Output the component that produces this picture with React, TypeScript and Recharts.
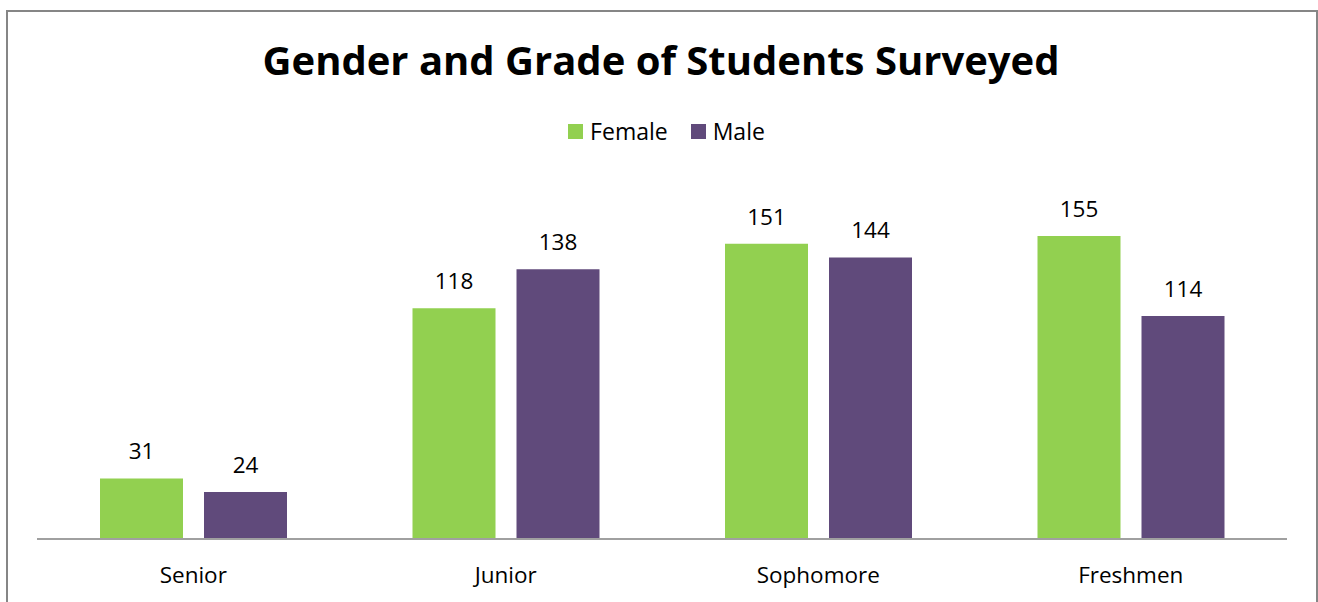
import React from 'react';
import { BarChart, Bar, XAxis, YAxis, LabelList, Legend } from 'recharts';

const grades = ['Senior', 'Junior', 'Sophomore', 'Freshmen'];
const female = [31, 118, 151, 155];
const male = [24, 138, 144, 114];
const title = 'Gender and Grade of Students Surveyed';

const data = grades.map((g, i) => ({ grade: g, Female: female[i], Male: male[i] }));

const FONT = '"Open Sans", sans-serif';

const LegendContent = (props: any) => {
  const payload = props.payload || [];
  return (
    <div style={{ display: 'flex', justifyContent: 'center', width: '100%', height: 15, paddingLeft: 15, boxSizing: 'border-box' }}>
      {payload.map((p: any, i: number) => (
        <div
          key={i}
          style={{
            display: 'flex',
            alignItems: 'center',
            marginLeft: i === 0 ? 0 : 23,
            fontFamily: FONT,
            fontSize: 23,
            lineHeight: '15px',
            height: 15,
            color: '#000',
          }}
        >
          <span style={{ display: 'inline-block', width: 15, height: 15, background: p.color, marginRight: 7 }} />
          <span>{p.value}</span>
        </div>
      ))}
    </div>
  );
};

export default function App() {
  return (
    <div style={{ position: 'absolute', left: 0, top: 0, width: 1318, height: 602, overflow: 'hidden', background: '#fff' }}>
      <div
        style={{
          position: 'absolute',
          left: 6,
          top: 10,
          width: 1312,
          height: 620,
          border: '2px solid #868686',
          boxSizing: 'border-box',
        }}
      />
      <svg style={{ position: 'absolute', left: 0, top: 0 }} width={1318} height={602}>
        <text x={661} y={75} textAnchor="middle" fontFamily={FONT} fontWeight={700} fontSize={40} fill="#000">
          {title}
        </text>
      </svg>
      <div style={{ position: 'absolute', left: 0, top: 0 }}>
        <BarChart
          width={1318}
          height={602}
          data={data}
          margin={{ top: 172, left: 37, right: 31, bottom: 0 }}
          barSize={83}
          barGap={21}
        >
          <XAxis
            dataKey="grade"
            height={63}
            tickLine={false}
            axisLine={{ stroke: '#a0a0a0', strokeWidth: 2 }}
            tick={{ fill: '#000', fontSize: 22.5, fontFamily: FONT }}
            tickSize={0}
            tickMargin={28}
            interval={0}
          />
          <YAxis hide domain={[0, 180]} />
          <Legend
            verticalAlign="top"
            content={<LegendContent />}
            wrapperStyle={{ position: 'absolute', top: 124, left: 0, width: 1318 }}
          />
          <Bar dataKey="Female" fill="#92D050" isAnimationActive={false}>
            <LabelList dataKey="Female" position="top" offset={19} fill="#000" fontSize={22.5} fontFamily={FONT} />
          </Bar>
          <Bar dataKey="Male" fill="#604A7B" isAnimationActive={false}>
            <LabelList dataKey="Male" position="top" offset={19} fill="#000" fontSize={22.5} fontFamily={FONT} />
          </Bar>
        </BarChart>
      </div>
    </div>
  );
}
